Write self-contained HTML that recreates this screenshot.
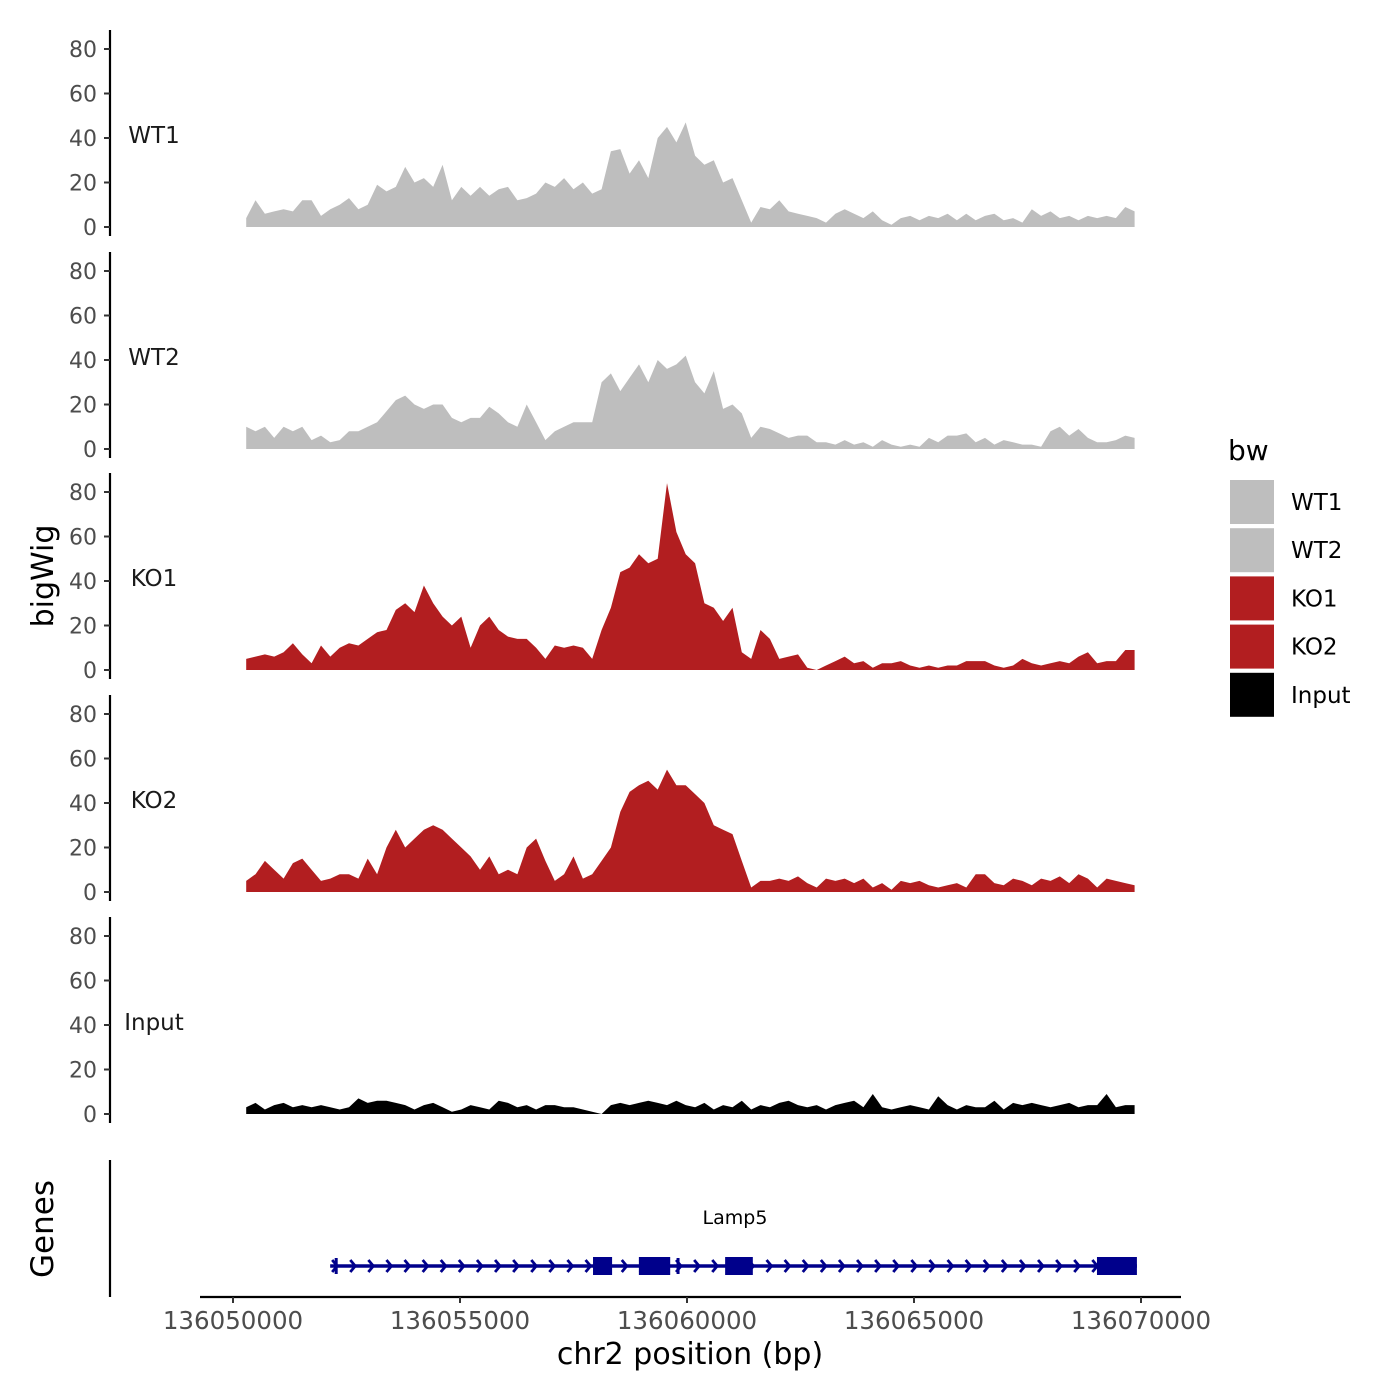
<!DOCTYPE html>
<html><head><meta charset="utf-8">
<style>
html,body{margin:0;padding:0;background:#fff;}
svg{display:block;font-family:"DejaVu Sans","Liberation Sans",sans-serif;}
</style></head>
<body>
<svg id="chart" width="1400" height="1400" viewBox="0 0 1400 1400" xmlns="http://www.w3.org/2000/svg"></svg>
<script>
const sampleNames = ["WT1","WT2","KO1","KO2","Input"];
const sampleColors = ["#bebebe","#bebebe","#b21e20","#b21e20","#000000"];
const startBp = 136050290;
const stepBp = 206;
const wt1 = [4,12,6,7,8,7,12,12,5,8,10,13,8,10,19,16,18,27,20,22,18,28,12,18,14,18,14,17,18,12,13,15,20,18,22,17,20,15,17,34,35,24,30,22,40,45,38,47,32,28,30,20,22,12,2,9,8,12,7,6,5,4,2,6,8,6,4,7,3,1,4,5,3,5,4,6,3,6,3,5,6,3,4,2,8,5,7,4,5,3,5,4,5,4,9,7];
const wt2 = [10,8,10,5,10,8,10,4,6,3,4,8,8,10,12,17,22,24,20,18,20,20,14,12,14,14,19,16,12,10,20,12,4,8,10,12,12,12,30,34,26,32,38,30,40,36,38,42,30,25,35,18,20,16,5,10,9,7,5,6,6,3,3,2,4,2,3,1,4,2,1,2,1,5,3,6,6,7,3,5,2,4,3,2,2,1,8,10,6,9,5,3,3,4,6,5];
const ko1 = [5,6,7,6,8,12,7,3,11,6,10,12,11,14,17,18,27,30,26,38,30,24,20,24,10,20,24,18,15,14,14,10,5,11,10,11,10,5,18,28,44,46,52,48,50,84,62,52,48,30,28,22,28,8,5,18,14,5,6,7,1,0,2,4,6,3,4,1,3,3,4,2,1,2,1,2,2,4,4,4,2,1,2,5,3,2,3,4,3,6,8,3,4,4,9,9];
const ko2 = [5,8,14,10,6,13,15,10,5,6,8,8,6,15,8,20,28,20,24,28,30,28,24,20,16,10,16,8,10,8,20,24,14,5,8,16,6,8,14,20,36,45,48,50,46,55,48,48,44,40,30,28,26,14,2,5,5,6,5,7,4,2,6,5,6,4,6,2,4,1,5,4,5,3,2,3,4,2,8,8,4,3,6,5,3,6,5,7,4,8,6,2,6,5,4,3];
const input = [3,5,2,4,5,3,4,3,4,3,2,3,7,5,6,6,5,4,2,4,5,3,1,2,4,3,2,6,5,3,4,2,4,4,3,3,2,1,0,4,5,4,5,6,5,4,6,4,3,5,2,4,3,6,2,4,3,5,6,4,3,4,2,4,5,6,3,9,3,2,3,4,3,2,8,4,2,4,3,3,6,2,5,4,5,4,3,4,5,3,4,4,9,3,4,4];
const yTicks = [0,20,40,60,80];
const xTicks = [136050000,136055000,136060000,136065000,136070000];
const geneName = "Lamp5";
const geneStart = 136052140;
const geneEnd = 136069910;
const exonStarts = [136052240,136057930,136058940,136059770,136060840,136069030];
const exonEnds   = [136052300,136058350,136059630,136059830,136061450,136069910];
const exonHeights = [16,18,18,16,18,18];

const NS="http://www.w3.org/2000/svg";
const svg=document.getElementById('chart');
function el(tag,attrs,parent){const e=document.createElementNS(NS,tag);for(const k in attrs)e.setAttribute(k,attrs[k]);(parent||svg).appendChild(e);return e;}
function xScale(bp){return 233+(bp-136050000)*0.0454;}
const baselines=[227,449,670,892,1114];
const pxPerUnit=2.225;
const series=[wt1,wt2,ko1,ko2,input];

for(let p=0;p<5;p++){
  const y0=baselines[p];
  const yS=v=>y0-v*pxPerUnit;
  const g=el('g',{});
  
  
  const data=series[p];
  let d='M'+xScale(startBp).toFixed(1)+','+y0;
  data.forEach((v,i)=>{d+=' L'+xScale(startBp+i*stepBp).toFixed(1)+','+yS(v).toFixed(1);});
  d+=' L'+xScale(startBp+(data.length-1)*stepBp).toFixed(1)+','+y0+' Z';
  const a=el('path',{d:d,fill:sampleColors[p]},g);
  
  
  const ax=el('line',{x1:110,x2:110,y1:y0-197,y2:y0+9,stroke:'#000','stroke-width':2.2},g);
  
  
  yTicks.forEach(t=>{
    const yy=yS(t);
    el('line',{x1:104,x2:110,y1:yy,y2:yy,stroke:'#333','stroke-width':2},g);
    const tx=el('text',{x:97,y:yy+8,'text-anchor':'end','font-size':22,fill:'#4d4d4d'},g);
    tx.textContent=t;
    
    
  });
  const lab=el('text',{x:154,y:y0-84,'text-anchor':'middle','font-size':23,fill:'#1a1a1a'},g);
  lab.textContent=sampleNames[p];
  
  
}

const yt=el('text',{x:0,y:0,transform:'translate(53,576) rotate(-90)','text-anchor':'middle','font-size':30,fill:'#000'});
yt.textContent='bigWig';



const gg=el('g',{});


el('line',{x1:110,x2:110,y1:1160,y2:1297,stroke:'#000','stroke-width':2.2},gg);
const gt=el('text',{x:0,y:0,transform:'translate(53,1229) rotate(-90)','text-anchor':'middle','font-size':31,fill:'#000'},gg);
gt.textContent='Genes';


const gy=1266;
const gs=xScale(geneStart), ge=xScale(geneEnd);
el('line',{x1:gs,x2:ge,y1:gy,y2:gy,stroke:'#00008b','stroke-width':3.5},gg);
for(let x=gs+5;x<ge-8;x+=18.1){
  el('polyline',{points:(x-3)+','+(gy-6)+' '+(x+2)+','+gy+' '+(x-3)+','+(gy+6),fill:'none',stroke:'#00008b','stroke-width':2.8},gg);
}
exonStarts.forEach((s,i)=>{
  const x1=xScale(s), x2=xScale(exonEnds[i]);
  const r=el('rect',{x:x1,y:gy-exonHeights[i]/2,width:Math.max(3,x2-x1),height:exonHeights[i],fill:'#00008b'},gg);
  
  
});
const gn=el('text',{x:735,y:1224,'text-anchor':'middle','font-size':19,fill:'#000'},gg);
gn.textContent=geneName;



el('line',{x1:200,x2:1181,y1:1297,y2:1297,stroke:'#000','stroke-width':2.2});
xTicks.forEach(t=>{
  const x=xScale(t);
  el('line',{x1:x,x2:x,y1:1297,y2:1303,stroke:'#333','stroke-width':2});
  const tx=el('text',{x:x,y:1329,'text-anchor':'middle','font-size':24.5,fill:'#4d4d4d'});
  tx.textContent=t;
  
  
});
const xt=el('text',{x:690,y:1364,'text-anchor':'middle','font-size':30,fill:'#000'});
xt.textContent='chr2 position (bp)';



const lg=el('g',{});


const lt=el('text',{x:1228,y:460,'font-size':28,fill:'#000'},lg);
lt.textContent='bw';


sampleNames.forEach((n,i)=>{
  const y=480+i*48.2;
  const r=el('rect',{x:1230,y:y,width:44,height:44,fill:sampleColors[i]},lg);
  
  
  const t=el('text',{x:1291,y:y+30,'font-size':23,fill:'#000'},lg);
  t.textContent=n;
  
  
});
</script>
</body></html>
